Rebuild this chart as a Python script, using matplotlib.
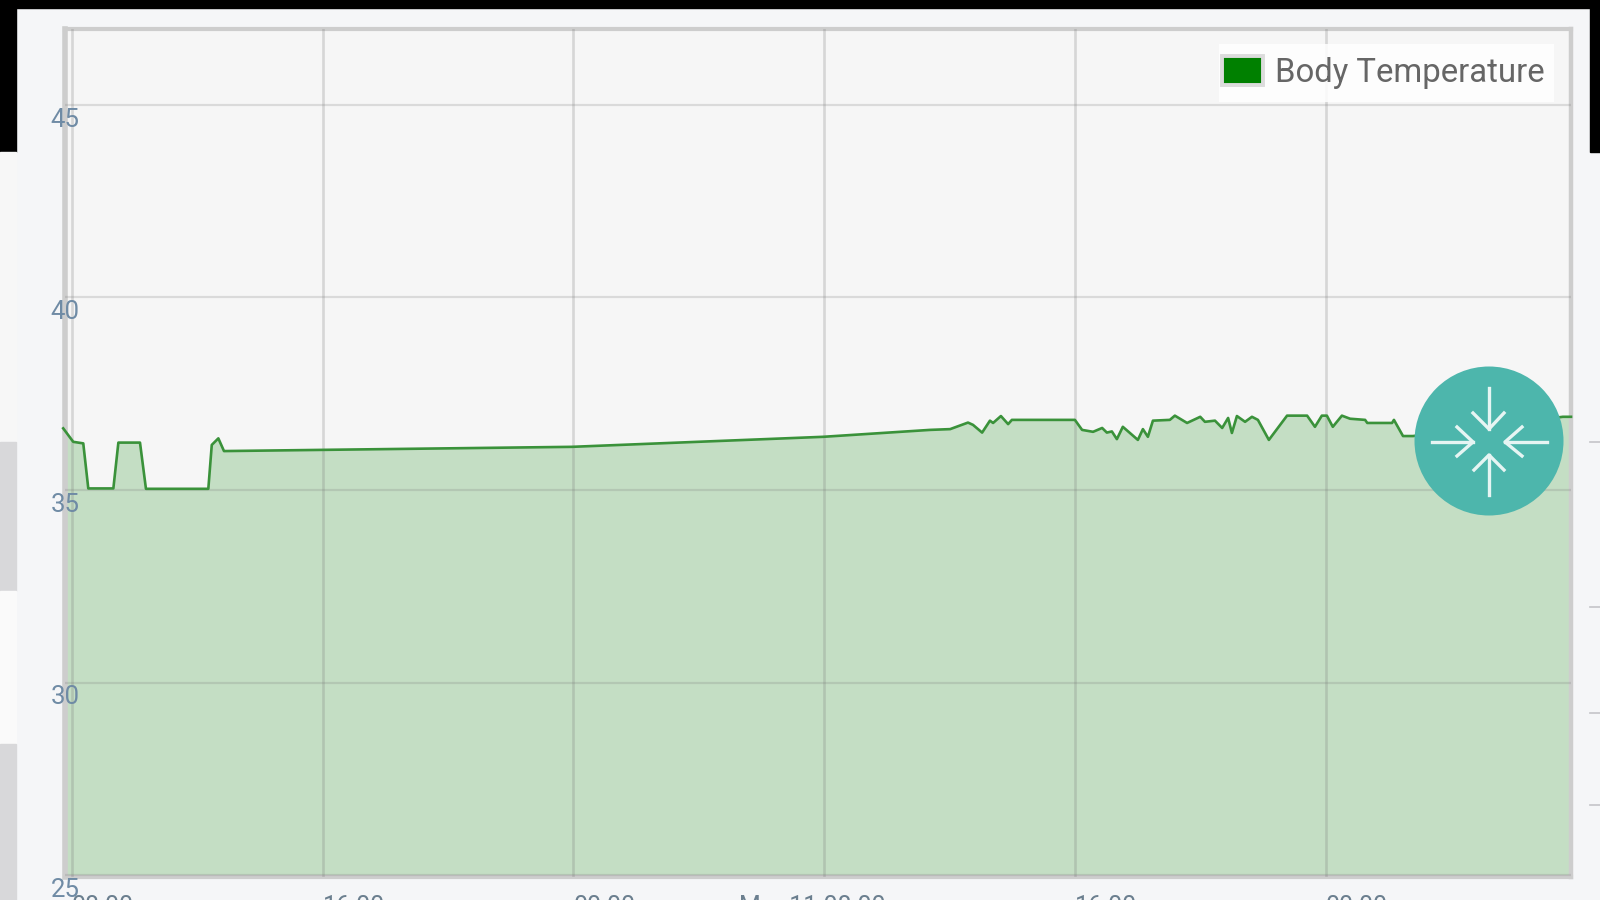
import matplotlib
matplotlib.use("Agg")
import matplotlib.pyplot as plt
from matplotlib.patches import Rectangle, Circle, Patch

# hours since the first tick
hours = [-0.28, 0.04, 0.36, 0.52, 1.32, 1.48, 2.17, 2.36, 4.35, 4.46, 4.67, 4.85,
         15.95, 23.96, 27.38, 28.02, 28.59, 28.75, 29.04, 29.29, 29.39, 29.64,
         29.87, 29.99, 32.0, 32.23, 32.58, 32.87, 33.02, 33.18, 33.34, 33.53,
         34.01, 34.17, 34.33, 34.49, 35.03, 35.19, 35.58, 36.0, 36.15, 36.47,
         36.7, 36.89, 37.01, 37.17, 37.43, 37.65, 37.84, 38.19, 38.77, 39.41,
         39.66, 39.88, 40.04, 40.23, 40.52, 40.78, 41.26, 41.33, 42.12, 42.18,
         42.47, 42.79, 47.57, 47.83]
temps = [36.6, 36.25, 36.21, 35.04, 35.04, 36.23, 36.23, 35.03, 35.03, 36.17, 36.34, 36.01,
         36.12, 36.38, 36.56, 36.58, 36.75, 36.69, 36.49, 36.8, 36.74, 36.92,
         36.71, 36.82, 36.82, 36.56, 36.51, 36.61, 36.49, 36.52, 36.32, 36.64,
         36.3, 36.58, 36.38, 36.8, 36.82, 36.93, 36.74, 36.9, 36.77, 36.8,
         36.61, 36.87, 36.48, 36.92, 36.77, 36.9, 36.82, 36.3, 36.93, 36.93,
         36.64, 36.93, 36.93, 36.64, 36.93, 36.85, 36.82, 36.74, 36.74, 36.82,
         36.4, 36.4, 36.9, 36.9]

tick_hours = [0, 8, 16, 24, 32, 40]
tick_labels = ["08:00", "16:00", "00:00", "Mar 11 08:00", "16:00", "00:00"]
y_ticks = [25, 30, 35, 40, 45]

W, H = 1600, 900
fig = plt.figure(figsize=(16, 9), dpi=100, facecolor="#f5f6f8")

# page behind the chart card
bg = fig.add_axes([0, 0, 1, 1], zorder=-1)
bg.set_xlim(0, W)
bg.set_ylim(H, 0)
bg.axis("off")
bg.add_patch(Rectangle((0, 0), W, 8, color="black"))
bg.add_patch(Rectangle((0, 0), 16, 152, color="black"))
bg.add_patch(Rectangle((1590, 0), 10, 152, color="black"))
bg.add_patch(Rectangle((0, 152), 16, 290, color="#f7f7f7"))
bg.add_patch(Rectangle((0, 442), 16, 149, color="#d8d8da"))
bg.add_patch(Rectangle((0, 591), 16, 153, color="#fafafa"))
bg.add_patch(Rectangle((0, 744), 16, 156, color="#d8d8da"))
for yy in [442, 607, 713, 805]:
    bg.plot([1590, 1600], [yy, yy], color="#c4c4c8", lw=1.2)

left, right, top, bottom = 65, 1571, 29, 877
ax = fig.add_axes([left / W, 1 - bottom / H, (right - left) / W, (bottom - top) / H])
ax.set_facecolor("#f6f6f6")
ax.set_xlim(-0.223, 47.83)
ax.set_ylim(24.95, 46.97)

ax.fill_between(hours, temps, 24.95, color="green", alpha=0.2, lw=0, zorder=1)
ax.plot(hours, temps, color="#3a923a", lw=1.9, zorder=3, clip_on=False, solid_joinstyle="round")

ax.set_xticks(tick_hours)
ax.set_yticks(y_ticks)
ax.set_xticklabels([])
ax.set_yticklabels([])
ax.tick_params(length=0)
ax.grid(axis="x", color="#777777", alpha=0.25, lw=1.9)
ax.grid(axis="y", color="#777777", alpha=0.22, lw=1.6)
ax.set_axisbelow(False)

for side, w in [("left", 4.0), ("right", 3.2), ("top", 3.0), ("bottom", 3.0)]:
    ax.spines[side].set_color("#cdcdcd")
    ax.spines[side].set_linewidth(w)

for v in y_ticks:
    ax.annotate(str(v), (0, v), xycoords=ax.get_yaxis_transform(), xytext=(0, -2),
                textcoords="offset points", ha="center", va="top", family="Roboto",
                fontsize=18.5, color="#6f8ba5", zorder=6, annotation_clip=False)

for h, lab in zip(tick_hours, tick_labels):
    if " " in lab:
        # long label ends where the time part would end
        ax.annotate(lab, (h, 0), xycoords=ax.get_xaxis_transform(), xytext=(44, -13),
                    textcoords="offset points", ha="right", va="top", family="Roboto",
                    fontsize=18, color="#6b7f8f", annotation_clip=False)
    else:
        ax.annotate(lab, (h, 0), xycoords=ax.get_xaxis_transform(), xytext=(0, -13),
                    textcoords="offset points", ha="left", va="top", family="Roboto",
                    fontsize=18, color="#6b7f8f", annotation_clip=False)

# legend box is tighter at the sides than a legend frame can be
ax.add_patch(Rectangle((1219 / W, 1 - 102 / H), 335 / W, 58 / H, transform=fig.transFigure,
                       facecolor="white", edgecolor="none", alpha=0.85, zorder=6))
handle = Patch(facecolor="green", edgecolor="#dcdcdc", lw=2.8, label="Body Temperature")
leg = ax.legend(handles=[handle], loc="upper right", bbox_to_anchor=(0.9827, 0.968),
                prop={"family": "Roboto", "size": 23.7}, labelcolor="#666666",
                frameon=False, handlelength=1.25, handleheight=0.95, handletextpad=0.38,
                borderpad=0, borderaxespad=0)
leg.set_zorder(7)

# round button sitting on top of the chart
over = fig.add_axes([0, 0, 1, 1], zorder=5)
over.set_xlim(0, W)
over.set_ylim(H, 0)
over.axis("off")
over.patch.set_alpha(0)
over.add_patch(Circle((1489, 441), 74.5, color="#4db6ac", lw=0))
arrows = [
    ([1489, 1489], [388, 429], [1473, 1489, 1504], [413, 429, 413]),
    ([1489, 1489], [495, 455], [1474, 1489, 1504], [470, 455, 470]),
    ([1432, 1473], [442, 442], [1457, 1473, 1457], [427, 442, 456]),
    ([1547, 1505], [442, 442], [1522, 1505, 1522], [427, 442, 456]),
]
for sx, sy, hx, hy in arrows:
    over.plot(sx, sy, color="#e6f5f3", lw=2.4)
    over.plot(hx, hy, color="#e6f5f3", lw=2.4)

fig.savefig("out.png", dpi=100)
